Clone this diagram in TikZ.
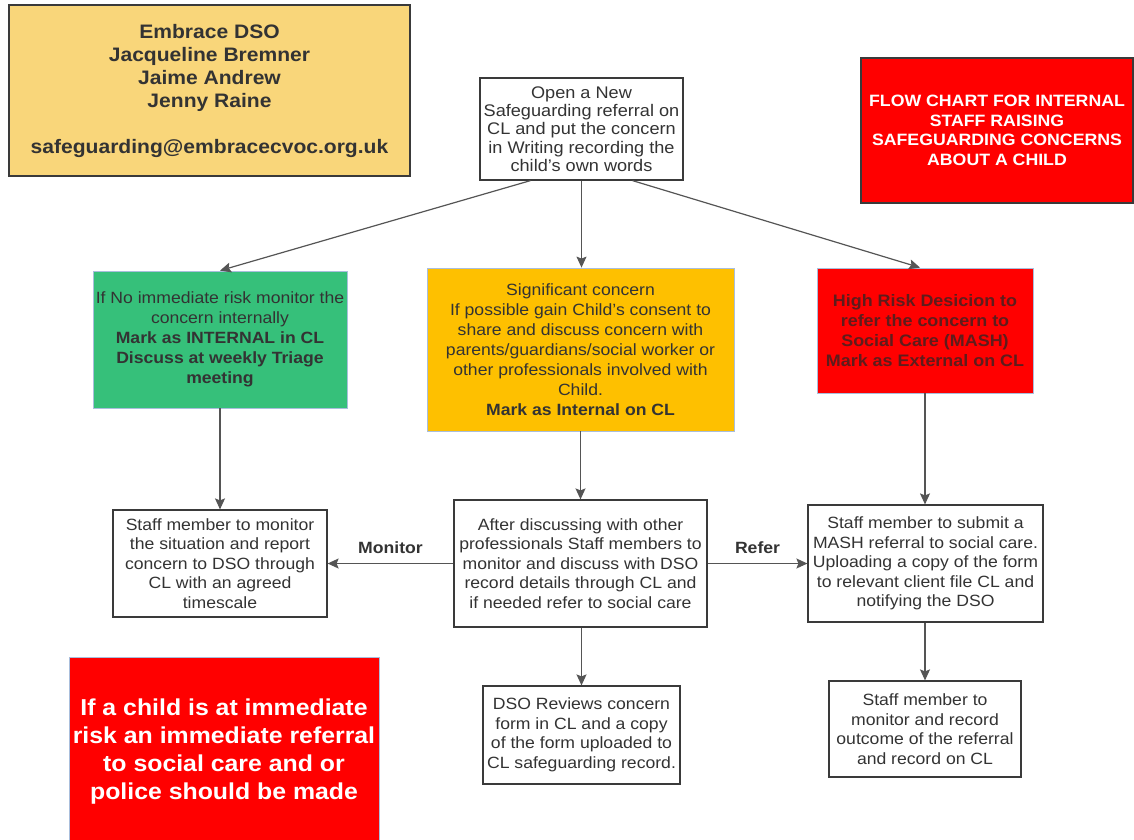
\documentclass[tikz,border=0pt]{standalone}
\usepackage{fontspec}
\setmainfont{Liberation Sans}[FakeStretch=1.08]
\usetikzlibrary{arrows.meta}
\definecolor{dsofill}{HTML}{F9D67A}
\definecolor{greenfill}{HTML}{36C07A}
\definecolor{yellowfill}{HTML}{FEC000}
\definecolor{redfill}{HTML}{FF0000}
\definecolor{lightedge}{HTML}{A9BEDC}
\definecolor{darkedge}{HTML}{3A3A3A}
\definecolor{txt}{HTML}{333333}
\definecolor{redtxt}{HTML}{5E1C1C}
\definecolor{arrowc}{HTML}{555555}
\tikzset{
  box/.style={draw=darkedge, line width=1.2pt, fill=white, align=center, inner sep=0pt,
     text=txt, font=\fontsize{16.3}{19.5}\selectfont},
  colbox/.style={draw=lightedge, line width=0.8pt, align=center, inner sep=0pt,
     text=txt, font=\fontsize{16.3}{20}\selectfont},
  arr/.style={draw=arrowc, line width=1.2pt, -{Stealth[length=11pt,width=10pt,inset=2pt]}},
  lbl/.style={font=\bfseries\fontsize{16.3}{18}\selectfont, text=txt}
}
\begin{document}
\begin{tikzpicture}[x=1pt,y=-1pt]
\useasboundingbox[fill=white] (0,0) rectangle (1134,839);

\node[draw=darkedge, line width=1.2pt, fill=dsofill, align=center, inner sep=0pt,
      minimum width=401, minimum height=171, text=txt,
      font=\bfseries\fontsize{19.5}{23}\selectfont] (dso) at (209.5,90.5)
  {Embrace DSO\\Jacqueline Bremner\\Jaime Andrew\\Jenny Raine\\[23pt]safeguarding@embracecvoc.org.uk};

\node[box, minimum width=203, minimum height=102, font=\fontsize{16.8}{18.3}\selectfont] (open) at (581.5,129)
  {Open a New\\Safeguarding referral on\\CL and put the concern\\in Writing recording the\\child's own words};

\node[draw=darkedge, line width=1.2pt, fill=redfill, align=center, inner sep=0pt,
      minimum width=272, minimum height=145, text=white,
      font=\bfseries\fontsize{16.4}{19.5}\selectfont] (title) at (997,130.5)
  {FLOW CHART FOR INTERNAL\\STAFF RAISING\\SAFEGUARDING CONCERNS\\ABOUT A CHILD};

\node[colbox, fill=greenfill, minimum width=254, minimum height=137] (green) at (220,339.5)
  {If No immediate risk monitor the\\concern internally\\\textbf{Mark as INTERNAL in CL}\\\textbf{Discuss at weekly Triage}\\\textbf{meeting}};

\node[colbox, fill=yellowfill, minimum width=307, minimum height=163] (yellow) at (580.5,349.5)
  {Significant concern\\If possible gain Child's consent to\\share and discuss concern with\\parents/guardians/social worker or\\other professionals involved with\\Child.\\\textbf{Mark as Internal on CL}};

\node[colbox, fill=redfill, minimum width=216, minimum height=125, text=redtxt,
      font=\bfseries\fontsize{16.6}{20}\selectfont] (redr) at (925,330.5)
  {High Risk Desicion to\\refer the concern to\\Social Care (MASH)\\Mark as External on CL};

\node[box, minimum width=214, minimum height=107] (staff) at (220,563.5)
  {Staff member to monitor\\the situation and report\\concern to DSO through\\CL with an agreed\\timescale};

\node[box, minimum width=253, minimum height=127] (after) at (580.5,563.5)
  {After discussing with other\\professionals Staff members to\\monitor and discuss with DSO\\record details through CL and\\if needed refer to social care};

\node[box, minimum width=235, minimum height=117] (mash) at (925.5,563.5)
  {Staff member to submit a\\MASH referral to social care.\\Uploading a copy of the form\\to relevant client file CL and\\notifying the DSO};

\node[draw=lightedge, line width=0.8pt, fill=redfill, align=center, inner sep=0pt,
      minimum width=310, minimum height=190, text=white,
      font=\bfseries\fontsize{23}{28}\selectfont] (bigred) at (224,752)
  {If a child is at immediate\\risk an immediate referral\\to social care and or\\police should be made};

\node[box, minimum width=197, minimum height=98] (review) at (581.5,735)
  {DSO Reviews concern\\form in CL and a copy\\of the form uploaded to\\CL safeguarding record.};

\node[box, minimum width=192, minimum height=96] (record) at (925,729)
  {Staff member to\\monitor and record\\outcome of the referral\\and record on CL};

% connectors
\draw[arr] ([xshift=-51]open.south) -- (green.north);
\draw[arr] (open.south) -- (open.south |- yellow.north);
\draw[arr] ([xshift=51]open.south) -- ([xshift=-5]redr.north);
\draw[arr] (green.south) -- (staff.north);
\draw[arr] (yellow.south -| after.north) -- (after.north);
\draw[arr] (redr.south) -- (redr.south |- mash.north);
\draw[arr] (after.west) -- node[lbl, above=6pt] {Monitor} (staff.east);
\draw[arr] (after.east) -- node[lbl, above=6pt] {Refer} (mash.west);
\draw[arr] (after.south -| review.north) -- (review.north);
\draw[arr] (mash.south -| record.north) -- (record.north);
\end{tikzpicture}
\end{document}
